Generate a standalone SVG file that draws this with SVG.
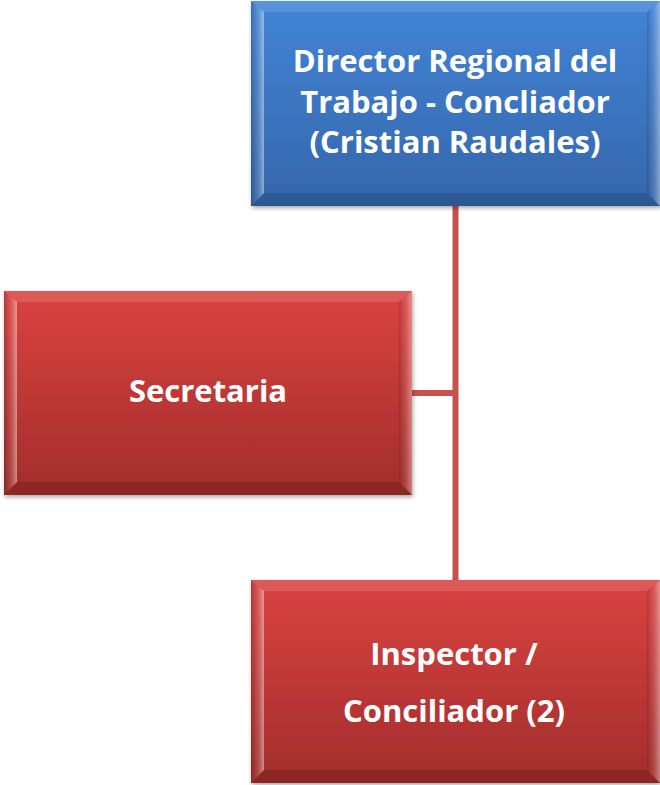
<svg xmlns="http://www.w3.org/2000/svg" width="660" height="785" viewBox="0 0 660 785">
<style>
.lbl{font-family:"Open Sans","Noto Sans","Liberation Sans",sans-serif;font-weight:bold;fill:#ffffff;text-anchor:middle;font-size:31px}
.conn{stroke:#c8504e;stroke-width:6;fill:none}
.top{fill:#ffffff;opacity:0.12}
.bot{fill:#000000;opacity:0.14}
</style>
<defs>
<linearGradient id="gBlue" x1="0" y1="0" x2="0" y2="1">
<stop offset="0" stop-color="#4284d6"/>
<stop offset="1" stop-color="#3566ab"/>
</linearGradient>
<linearGradient id="gRed" x1="0" y1="0" x2="0" y2="1">
<stop offset="0" stop-color="#da4341"/>
<stop offset="1" stop-color="#a22d2b"/>
</linearGradient>
<linearGradient id="gL" x1="0" y1="0" x2="1" y2="0">
<stop offset="0" stop-color="#000" stop-opacity="0.15"/>
<stop offset="0.6" stop-color="#fff" stop-opacity="0.15"/>
<stop offset="1" stop-color="#fff" stop-opacity="0.45"/>
</linearGradient>
<linearGradient id="gR" x1="0" y1="0" x2="1" y2="0">
<stop offset="0" stop-color="#000" stop-opacity="0.15"/>
<stop offset="0.5" stop-color="#fff" stop-opacity="0.1"/>
<stop offset="1" stop-color="#fff" stop-opacity="0.4"/>
</linearGradient>
<filter id="sh" x="-5%" y="-5%" width="110%" height="115%">
<feDropShadow dx="1" dy="2" stdDeviation="2" flood-color="#000" flood-opacity="0.35"/>
</filter>
</defs>

<g id="connectors">
<line class="conn" x1="455.5" y1="206" x2="455.5" y2="580"/>
<line class="conn" x1="412" y1="393" x2="455.5" y2="393"/>
</g>

<g id="director">
<rect x="251" y="1" width="409" height="205" fill="url(#gBlue)" filter="url(#sh)"/>
<polygon class="top" points="251,1 660,1 647,12 264,12"/>
<polygon class="bot" points="251,206 660,206 647,193 264,193"/>
<polygon fill="url(#gL)" points="251,1 264,12 264,193 251,206"/>
<polygon fill="url(#gR)" points="660,1 647,12 647,193 660,206"/>
<text class="lbl" x="455" y="72">Director Regional del</text>
<text class="lbl" x="455" y="113">Trabajo - Concliador</text>
<text class="lbl" x="455" y="153">(Cristian Raudales)</text>
</g>

<g id="secretaria">
<rect x="4" y="291" width="408" height="204" fill="url(#gRed)" filter="url(#sh)"/>
<polygon class="top" points="4,291 412,291 399,302 17,302"/>
<polygon class="bot" points="4,495 412,495 399,482 17,482"/>
<polygon fill="url(#gL)" points="4,291 17,302 17,482 4,495"/>
<polygon fill="url(#gR)" points="412,291 399,302 399,482 412,495"/>
<text class="lbl" x="208" y="402">Secretaria</text>
</g>

<g id="inspector">
<rect x="251" y="580" width="409" height="203" fill="url(#gRed)" filter="url(#sh)"/>
<polygon class="top" points="251,580 660,580 647,591 264,591"/>
<polygon class="bot" points="251,783 660,783 647,770 264,770"/>
<polygon fill="url(#gL)" points="251,580 264,591 264,770 251,783"/>
<polygon fill="url(#gR)" points="660,580 647,591 647,770 660,783"/>
<text class="lbl" x="454" y="665">Inspector /</text>
<text class="lbl" x="454" y="722">Conciliador (2)</text>
</g>
</svg>
